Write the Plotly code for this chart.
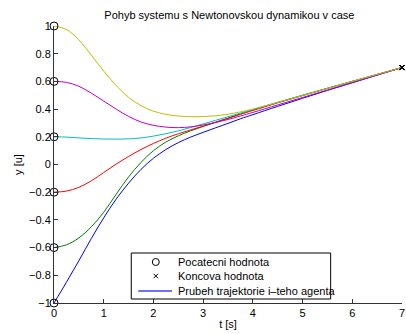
import plotly.graph_objects as go

t = [0, 0.25, 0.5, 0.75, 1.0, 1.25, 1.5, 1.75, 2.0, 2.25, 2.5, 2.75, 3.0, 3.25, 3.5, 3.75,
     4.0, 4.5, 5.0, 5.5, 6.0, 6.5, 7.0]

y_blue = [-1.0, -0.85, -0.695, -0.535, -0.385, -0.25, -0.135, -0.035, 0.045, 0.108, 0.158, 0.198,
          0.232, 0.265, 0.297, 0.33, 0.36, 0.42, 0.478, 0.535, 0.59, 0.645, 0.70]
y_green = [-0.6, -0.58, -0.53, -0.45, -0.345, -0.215, -0.09, 0.015, 0.10, 0.162, 0.207, 0.243,
           0.275, 0.305, 0.335, 0.365, 0.394, 0.448, 0.50, 0.55, 0.60, 0.65, 0.70]
y_red = [-0.2, -0.192, -0.165, -0.118, -0.058, 0.003, 0.058, 0.108, 0.152, 0.19, 0.222, 0.25,
         0.277, 0.305, 0.333, 0.362, 0.39, 0.445, 0.497, 0.55, 0.60, 0.65, 0.70]
y_cyan = [0.2, 0.198, 0.192, 0.187, 0.184, 0.183, 0.185, 0.192, 0.205, 0.222, 0.243, 0.267,
          0.293, 0.319, 0.345, 0.371, 0.397, 0.449, 0.50, 0.55, 0.60, 0.65, 0.70]
y_magenta = [0.6, 0.593, 0.565, 0.515, 0.458, 0.40, 0.347, 0.307, 0.283, 0.27, 0.266, 0.272,
             0.285, 0.303, 0.325, 0.35, 0.376, 0.43, 0.484, 0.538, 0.592, 0.646, 0.70]
y_yellow = [1.0, 0.975, 0.90, 0.79, 0.675, 0.57, 0.485, 0.425, 0.385, 0.362, 0.35, 0.345,
            0.346, 0.352, 0.363, 0.38, 0.40, 0.448, 0.498, 0.549, 0.60, 0.65, 0.70]

series = [
    (y_blue, "rgb(0,0,255)"),
    (y_green, "rgb(0,128,0)"),
    (y_red, "rgb(255,0,0)"),
    (y_cyan, "rgb(0,191,191)"),
    (y_magenta, "rgb(191,0,191)"),
    (y_yellow, "rgb(191,191,0)"),
]

legend_labels = ["Pocatecni hodnota", "Koncova hodnota", "Prubeh trajektorie i\u2013teho agenta"]

start_vals = [s[0][0] for s in series]
end_vals = [s[0][-1] for s in series]

fig = go.Figure()
for ys, col in series:
    fig.add_trace(go.Scatter(
        x=t, y=ys, mode="lines",
        line=dict(color=col, width=1, shape="spline", smoothing=1.0),
        showlegend=False, cliponaxis=False, hoverinfo="skip"))

fig.add_trace(go.Scatter(
    x=[t[0]] * len(start_vals), y=start_vals, mode="markers",
    marker=dict(symbol="circle-open", size=8, color="black", line=dict(width=1, color="black")),
    name=legend_labels[0], showlegend=False, cliponaxis=False))
fig.add_trace(go.Scatter(
    x=[t[-1]] * len(end_vals), y=end_vals, mode="markers",
    marker=dict(symbol="x-thin-open", size=5, color="black", line=dict(width=1, color="black")),
    name=legend_labels[1], showlegend=False, cliponaxis=False))

# manual legend box (paper coordinates of the plot area)
lx0, lx1, ly0, ly1 = 0.222, 0.795, 0.0144, 0.1805
rows = [0.148, 0.0975, 0.0433]
sym_x = 0.2925
text_x = 0.3504
shapes = [
    dict(type="rect", xref="paper", yref="paper", x0=lx0, x1=lx1, y0=ly0, y1=ly1,
         line=dict(color="black", width=1), fillcolor="white", layer="above"),
    dict(type="circle", xref="paper", yref="paper", xsizemode="pixel", ysizemode="pixel",
         xanchor=sym_x, yanchor=rows[0], x0=-3.5, x1=3.5, y0=-3.5, y1=3.5,
         line=dict(color="black", width=1), layer="above"),
    dict(type="line", xref="paper", yref="paper", xsizemode="pixel", ysizemode="pixel",
         xanchor=sym_x, yanchor=rows[1], x0=-2.2, x1=2.2, y0=-2.2, y1=2.2,
         line=dict(color="black", width=1), layer="above"),
    dict(type="line", xref="paper", yref="paper", xsizemode="pixel", ysizemode="pixel",
         xanchor=sym_x, yanchor=rows[1], x0=-2.2, x1=2.2, y0=2.2, y1=-2.2,
         line=dict(color="black", width=1), layer="above"),
    dict(type="line", xref="paper", yref="paper", x0=0.2422, x1=0.339, y0=rows[2], y1=rows[2],
         line=dict(color="rgb(110,110,255)", width=2), layer="above"),
]
annotations = [
    dict(text=lbl, xref="paper", yref="paper", x=text_x, y=ry, xanchor="left", yanchor="middle",
         showarrow=False, font=dict(size=11, color="black"))
    for lbl, ry in zip(legend_labels, rows)
]

font = "Liberation Sans, Arial, sans-serif"
fig.update_layout(
    width=406, height=334,
    margin=dict(l=54, r=1, t=26, b=31),
    paper_bgcolor="white", plot_bgcolor="white",
    font=dict(family=font, size=11, color="black"),
    title=dict(text="Pohyb systemu s Newtonovskou dynamikou v case", x=0.565, xanchor="center",
               y=0.955, yanchor="middle", font=dict(size=11)),
    xaxis=dict(range=[0, 7], dtick=1, tick0=0, showgrid=False, zeroline=False,
               showline=True, linecolor="#333", linewidth=1, ticks="inside", ticklen=4,
               tickcolor="#333", ticklabeloverflow="allow",
               title=dict(text="t [s]", standoff=2, font=dict(size=11))),
    yaxis=dict(range=[-1, 1], dtick=0.2, tick0=0, showgrid=False, zeroline=False,
               showline=True, linecolor="#333", linewidth=1, ticks="inside", ticklen=4,
               tickcolor="#333", title=dict(text="y [u]", standoff=4, font=dict(size=11))),
    shapes=shapes,
    annotations=annotations,
    showlegend=False,
)

fig.write_html("out.html")
